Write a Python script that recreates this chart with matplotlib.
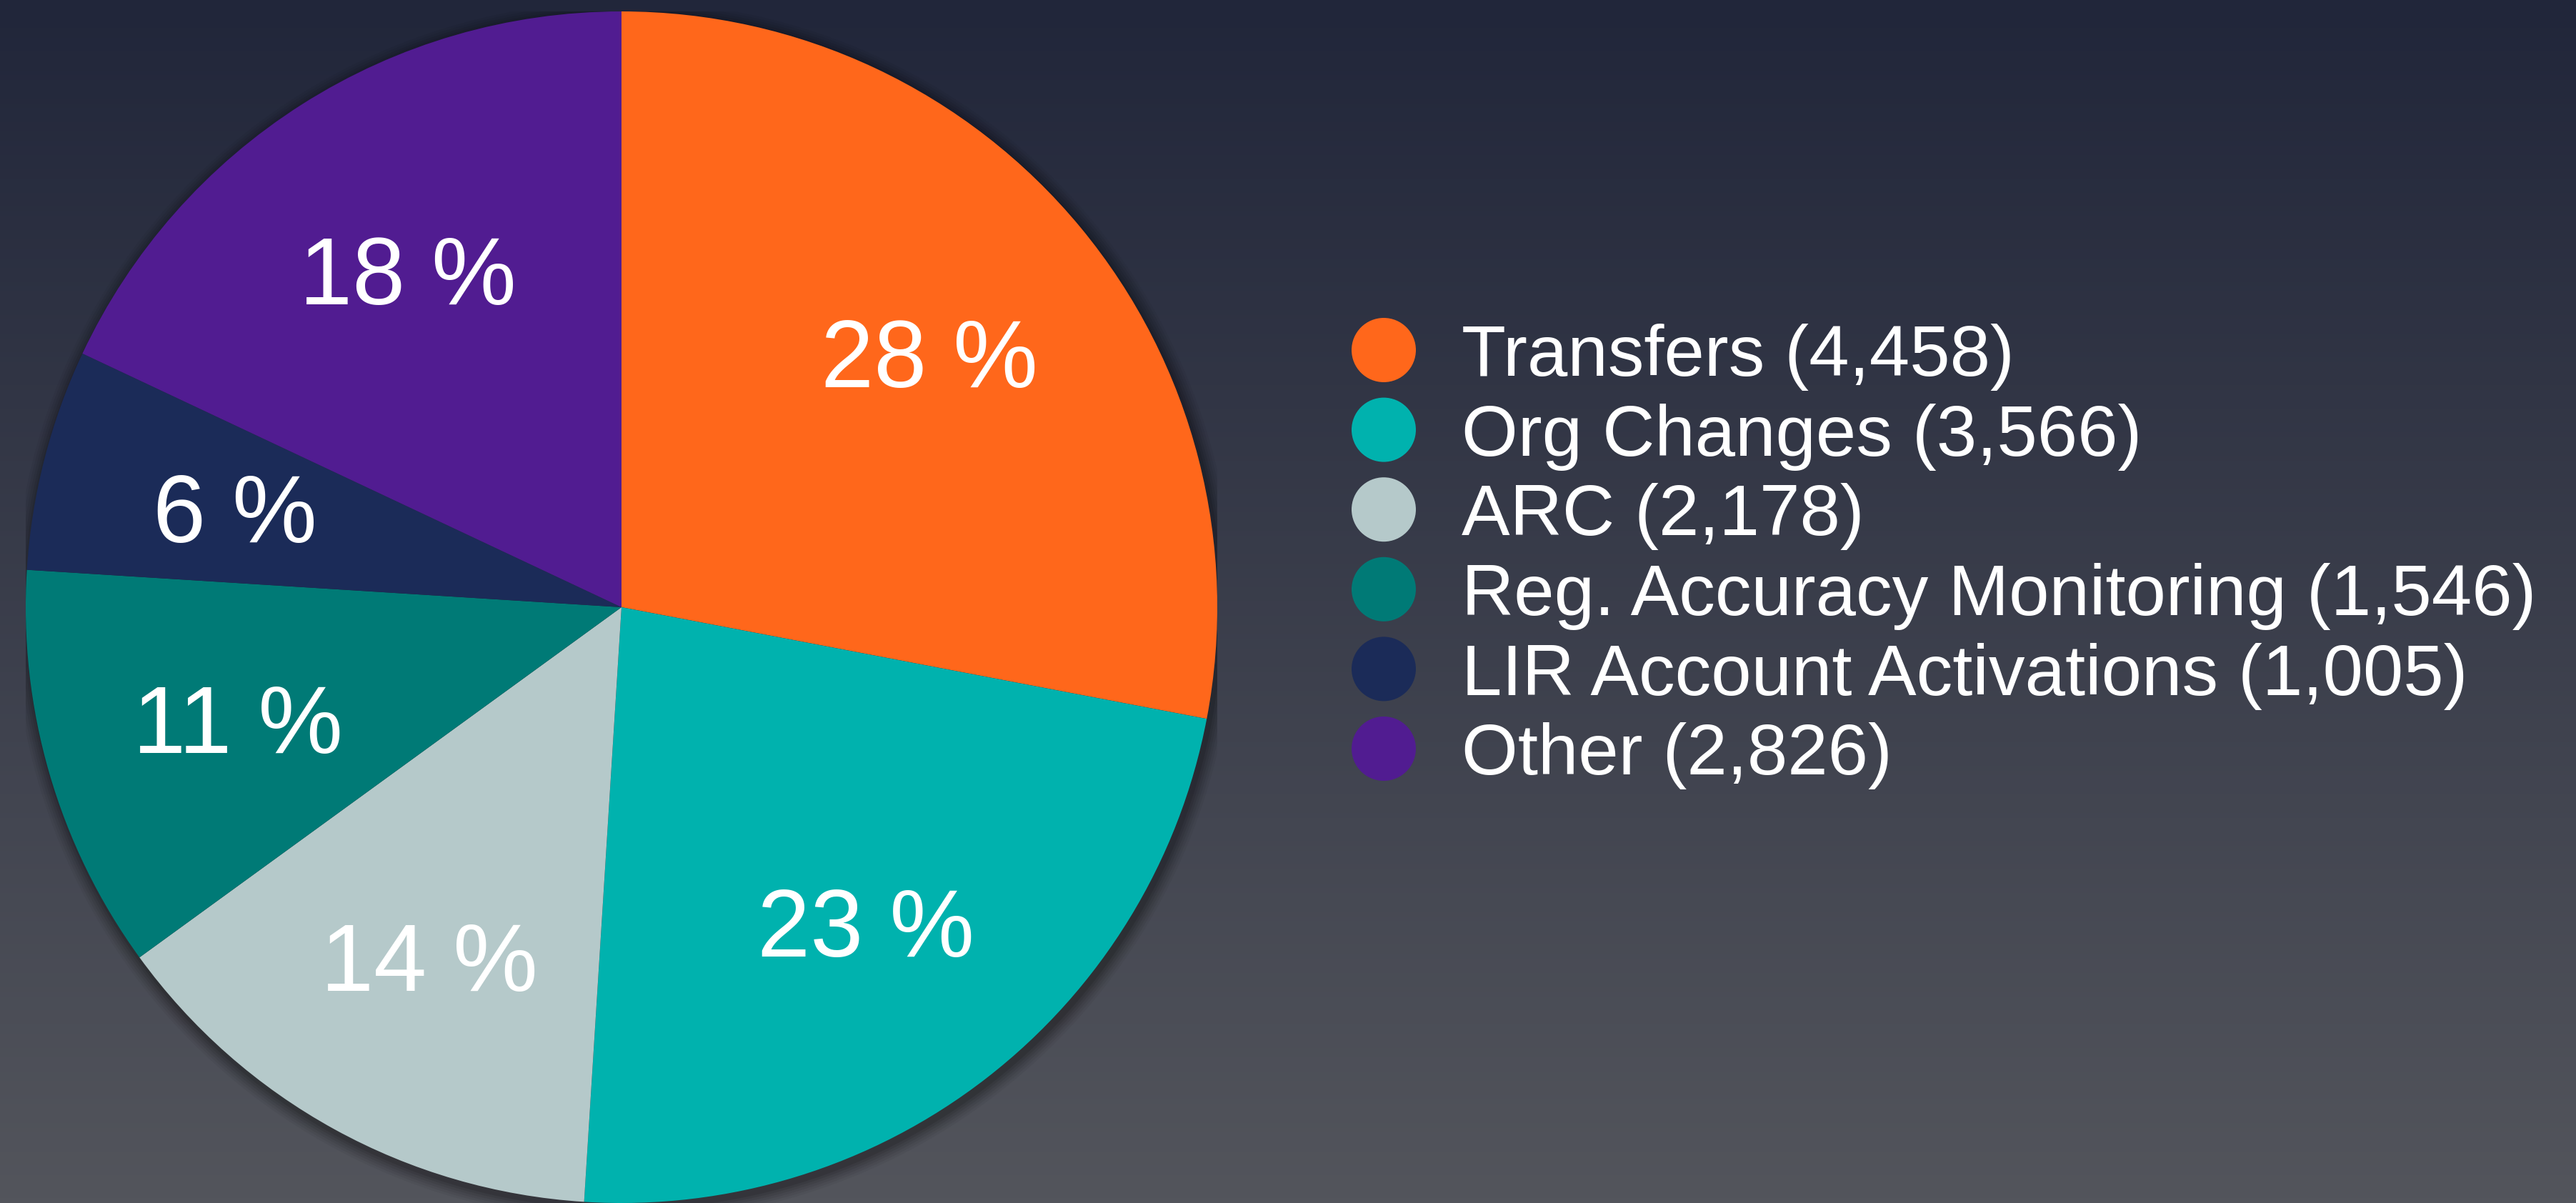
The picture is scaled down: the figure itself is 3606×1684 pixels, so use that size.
import numpy as np
import matplotlib
matplotlib.use("Agg")
import matplotlib.pyplot as plt
from matplotlib.patches import Circle

# ---- data ----
categories = ["Transfers", "Org Changes", "ARC", "Reg. Accuracy Monitoring",
              "LIR Account Activations", "Other"]
counts = [4458, 3566, 2178, 1546, 1005, 2826]
percent_labels = [28, 23, 14, 11, 6, 18]
colors = ["#FF671B", "#00B2AE", "#B5C9CA", "#007A76", "#1B2B58", "#511C91"]

W, H, DPI = 3606, 1684, 100
fig = plt.figure(figsize=(W / DPI, H / DPI), dpi=DPI)
plt.rcParams['font.family'] = ['Liberation Sans', 'DejaVu Sans']

# background gradient
bg = fig.add_axes([0, 0, 1, 1], zorder=0)
top = np.array([0x21, 0x26, 0x3a]) / 255
bot = np.array([0x53, 0x55, 0x5c]) / 255
t = np.linspace(0, 1, 256)[:, None]
grad = top[None, :] * (1 - t) + bot[None, :] * t
bg.imshow(grad[:, None, :].repeat(2, axis=1), aspect='auto', extent=[0, 1, 0, 1])
bg.set_axis_off()

# pie
cx, cy, r = 870, 850, 834
ax = fig.add_axes([(cx - r) / W, (H - cy - r) / H, 2 * r / W, 2 * r / H], zorder=1)
ax.set_facecolor('none')
for k, a in zip(range(6), [0.04, 0.05, 0.06, 0.07, 0.08, 0.10]):
    rr = 1.0 + 0.004 * (6 - k)
    ax.add_patch(Circle((0.004, -0.007), rr, color='black', alpha=a, lw=0, zorder=0))

label_fs = 96
em_px = label_fs * DPI / 72.0
shift = 0.358 * em_px / r  # visual centre of digits relative to baseline, in data units

wedges, texts, autotexts = ax.pie(
    percent_labels, colors=colors, startangle=90, counterclock=False,
    autopct=lambda p: "", pctdistance=0.67, radius=1.0,
    wedgeprops=dict(linewidth=0))
for w, lab, at in zip(wedges, percent_labels, autotexts):
    x, y = at.get_position()
    at.set_position((x, y - shift))
    at.set_text(f"{lab} %")
    at.set_color('white')
    at.set_fontsize(label_fs)
    at.set_ha('center')
    at.set_va('baseline')
ax.set_xlim(-1, 1)
ax.set_ylim(-1, 1)
ax.set_aspect('equal')
ax.set_axis_off()

# legend (drawn manually in pixel space)
lg = fig.add_axes([0, 0, 1, 1], zorder=2)
lg.set_xlim(0, W)
lg.set_ylim(H, 0)
lg.set_axis_off()
lg.set_facecolor('none')
leg_fs = 73
leg_shift = 0.358 * leg_fs * DPI / 72.0
x_marker, x_text, y0, dy = 1937, 2046, 490, 111.6
for i, (cat, n, col) in enumerate(zip(categories, counts, colors)):
    y = y0 + i * dy
    lg.add_patch(Circle((x_marker, y), 45, color=col, lw=0))
    lg.text(x_text, y + leg_shift, f"{cat} ({n:,})", color='white', fontsize=leg_fs,
            ha='left', va='baseline')

fig.savefig("out.png", dpi=DPI)
